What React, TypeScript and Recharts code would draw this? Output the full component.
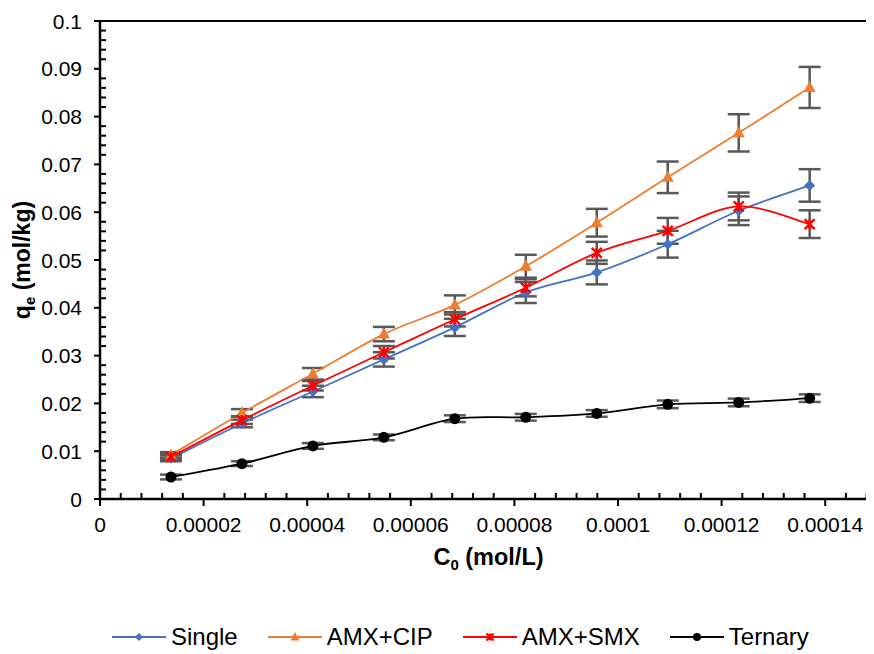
import React from "react";
import { LineChart, Line, XAxis, YAxis, ErrorBar, Legend, ReferenceLine } from "recharts";

const concentrations = [0.0000137, 0.0000274, 0.0000411, 0.0000548, 0.0000685, 0.0000822, 0.0000959, 0.0001096, 0.0001233, 0.000137];
const singleVals = [0.0085, 0.0158, 0.0225, 0.0292, 0.0359, 0.0432, 0.0474, 0.0533, 0.0603, 0.0656];
const singleErrs = [0.0006, 0.0008, 0.0012, 0.0015, 0.0018, 0.0022, 0.0025, 0.0028, 0.003, 0.0034];
const cipVals = [0.0092, 0.018, 0.0262, 0.0345, 0.0406, 0.0487, 0.0578, 0.0673, 0.0766, 0.0861];
const cipErrs = [0.0006, 0.0008, 0.0012, 0.0015, 0.002, 0.0024, 0.0029, 0.0033, 0.0039, 0.0043];
const smxVals = [0.0088, 0.0165, 0.0237, 0.0307, 0.0376, 0.0442, 0.0515, 0.0561, 0.0612, 0.0575];
const smxErrs = [0.0006, 0.0008, 0.001, 0.0013, 0.0015, 0.0018, 0.0023, 0.0027, 0.0029, 0.0029];
const ternaryVals = [0.0046, 0.0074, 0.0111, 0.0129, 0.0168, 0.0171, 0.0179, 0.0198, 0.0202, 0.0211];
const ternaryErrs = [0.0005, 0.0005, 0.0006, 0.0006, 0.0007, 0.0007, 0.0007, 0.0008, 0.0008, 0.0008];

const xMajorTicks = [0, 0.00002, 0.00004, 0.00006, 0.00008, 0.0001, 0.00012, 0.00014];
const xTickLabels = ["0", "0.00002", "0.00004", "0.00006", "0.00008", "0.0001", "0.00012", "0.00014"];
const yMajorTicks = [0, 0.01, 0.02, 0.03, 0.04, 0.05, 0.06, 0.07, 0.08, 0.09, 0.1];
const yTickLabels = ["0", "0.01", "0.02", "0.03", "0.04", "0.05", "0.06", "0.07", "0.08", "0.09", "0.1"];

const SUB = 5;
const xAllTicks: number[] = [];
xMajorTicks.forEach((t) => {
  const step = 0.00002 / SUB;
  for (let j = 0; j < SUB; j++) xAllTicks.push(+(t + j * step).toFixed(9));
});
const yAllTicks: number[] = [];
yMajorTicks.forEach((t, i) => {
  if (i === yMajorTicks.length - 1) {
    yAllTicks.push(t);
    return;
  }
  const step = 0.01 / SUB;
  for (let j = 0; j < SUB; j++) yAllTicks.push(+(t + j * step).toFixed(6));
});

const data = concentrations.map((x, i) => ({
  x,
  single: singleVals[i],
  singleErr: singleErrs[i],
  cip: cipVals[i],
  cipErr: cipErrs[i],
  smx: smxVals[i],
  smxErr: smxErrs[i],
  tern: ternaryVals[i],
  ternErr: ternaryErrs[i],
}));

const BLUE = "#4472C4";
const ORANGE = "#ED7D31";
const RED = "#FF0000";
const BLACK = "#000000";
const ERR = "#595959";
const FONT = "'Liberation Sans', Arial, sans-serif";

// Excel-like smooth curve (Catmull-Rom as cubic Bezier)
const excelSmooth: any = (context: any) => {
  let pts: number[][] = [];
  return {
    areaStart() {},
    areaEnd() {},
    lineStart() {
      pts = [];
    },
    lineEnd() {
      const n = pts.length;
      if (!n) return;
      context.moveTo(pts[0][0], pts[0][1]);
      const t = 1 / 6;
      for (let i = 0; i < n - 1; i++) {
        const p0 = pts[i - 1] || pts[i];
        const p1 = pts[i];
        const p2 = pts[i + 1];
        const p3 = pts[i + 2] || p2;
        context.bezierCurveTo(
          p1[0] + (p2[0] - p0[0]) * t,
          p1[1] + (p2[1] - p0[1]) * t,
          p2[0] - (p3[0] - p1[0]) * t,
          p2[1] - (p3[1] - p1[1]) * t,
          p2[0],
          p2[1]
        );
      }
    },
    point(x: number, y: number) {
      pts.push([+x, +y]);
    },
  };
};

const Diamond = ({ cx, cy, s = 5.5 }: any) => (
  <polygon points={`${cx},${cy - s} ${cx + s},${cy} ${cx},${cy + s} ${cx - s},${cy}`} fill={BLUE} />
);
const Triangle = ({ cx, cy, s = 6 }: any) => (
  <polygon points={`${cx},${cy - s * 1.1} ${cx + s},${cy + s * 0.75} ${cx - s},${cy + s * 0.75}`} fill={ORANGE} />
);
const Star = ({ cx, cy, s = 5 }: any) => (
  <g stroke={RED} strokeWidth={2.4}>
    <line x1={cx - s} y1={cy - s} x2={cx + s} y2={cy + s} />
    <line x1={cx - s} y1={cy + s} x2={cx + s} y2={cy - s} />
    <line x1={cx} y1={cy - s} x2={cx} y2={cy + s} />
  </g>
);
const Circle = ({ cx, cy, s = 5.5 }: any) => <circle cx={cx} cy={cy} r={s} fill={BLACK} />;

const mkDot = (Comp: any, name: string) => (props: any) => {
  const { cx, cy, index } = props;
  if (cx == null || cy == null) return <g key={`${name}-${index}`} />;
  return <Comp key={`${name}-${index}`} cx={cx} cy={cy} />;
};

const XTick = (props: any) => {
  const { x, y, index } = props;
  const major = index % SUB === 0;
  const mi = Math.floor(index / SUB);
  return (
    <g>
      {major ? (
        <line x1={x} y1={y} x2={x} y2={y + 7} stroke="#000" strokeWidth={2} />
      ) : (
        <line x1={x} y1={y} x2={x} y2={y - 6} stroke="#000" strokeWidth={2} />
      )}
      {major && (
        <text x={x} y={y + 33} textAnchor="middle" fontFamily={FONT} fontSize={21} fill="#000">
          {xTickLabels[mi]}
        </text>
      )}
    </g>
  );
};

const YTick = (props: any) => {
  const { x, y, index } = props;
  const major = index % SUB === 0;
  const mi = Math.floor(index / SUB);
  return (
    <g>
      {major ? (
        <line x1={x - 6} y1={y} x2={x} y2={y} stroke="#000" strokeWidth={2} />
      ) : (
        <line x1={x} y1={y} x2={x + 6} y2={y} stroke="#000" strokeWidth={2} />
      )}
      {major && (
        <text x={x - 18} y={y} dy="0.36em" textAnchor="end" fontFamily={FONT} fontSize={21} fill="#000">
          {yTickLabels[mi]}
        </text>
      )}
    </g>
  );
};

const XTitle = (props: any) => {
  const vb = props.viewBox || {};
  const cx = vb.x + vb.width / 2;
  return (
    <text x={cx} y={vb.y + 66} textAnchor="middle" fontFamily={FONT} fontSize={23.5} fontWeight="bold" fill="#000">
      C<tspan fontSize={15} dy={5}>0</tspan>
      <tspan dy={-5}> (mol/L)</tspan>
    </text>
  );
};

const YTitle = (props: any) => {
  const vb = props.viewBox || {};
  const cy = vb.y + vb.height / 2;
  const x = 22;
  return (
    <text
      x={x}
      y={cy}
      transform={`rotate(-90, ${x}, ${cy})`}
      textAnchor="middle"
      fontFamily={FONT}
      fontSize={23}
      fontWeight="bold"
      fill="#000"
    >
      q<tspan fontSize={15} dy={5}>e</tspan>
      <tspan dy={-5}> (mol/kg)</tspan>
    </text>
  );
};

const legendItems = [
  { name: "Single", color: BLUE, icon: Diamond, s: 4 },
  { name: "AMX+CIP", color: ORANGE, icon: Triangle, s: 4.5 },
  { name: "AMX+SMX", color: RED, icon: Star, s: 3.5 },
  { name: "Ternary", color: BLACK, icon: Circle, s: 4 },
];

const LegendContent = () => (
  <div style={{ display: "flex", alignItems: "center", paddingLeft: 104, paddingTop: 29, gap: 30 }}>
    {legendItems.map((it) => {
      const Icon = it.icon;
      return (
        <div key={it.name} style={{ display: "flex", alignItems: "center" }}>
          <svg width={54} height={16} style={{ display: "block" }}>
            <line x1={0} y1={8} x2={54} y2={8} stroke={it.color} strokeWidth={2} />
            <Icon cx={27} cy={8} s={it.s} />
          </svg>
          <span style={{ fontFamily: FONT, fontSize: 24, color: "#000", marginLeft: 5, lineHeight: "28px" }}>{it.name}</span>
        </div>
      );
    })}
  </div>
);

export default function App() {
  return (
    <div style={{ width: 866, height: 646, overflow: "hidden", background: "#fff" }}>
      <LineChart width={870} height={646} data={data} margin={{ top: 13, right: 1, left: 0, bottom: 0 }}>
        <XAxis
          dataKey="x"
          type="number"
          domain={[0, 0.00015]}
          ticks={xAllTicks}
          interval={0}
          tick={<XTick />}
          tickLine={false}
          tickSize={0}
          tickMargin={0}
          height={95}
          axisLine={{ stroke: "#000", strokeWidth: 2.5 }}
          label={<XTitle />}
          allowDataOverflow
        />
        <YAxis
          type="number"
          domain={[0, 0.1]}
          ticks={yAllTicks}
          interval={0}
          tick={<YTick />}
          tickLine={false}
          tickSize={0}
          tickMargin={0}
          width={92}
          axisLine={{ stroke: "#000", strokeWidth: 2.5 }}
          label={<YTitle />}
        />
        <ReferenceLine y={0.1} stroke="#000" strokeWidth={2} />
        <Legend verticalAlign="bottom" height={60} content={<LegendContent />} wrapperStyle={{ left: 0, width: 870 }} />
        <Line dataKey="single" stroke={BLUE} strokeWidth={1.8} type={excelSmooth} dot={mkDot(Diamond, "s")} isAnimationActive={false}>
          <ErrorBar dataKey="singleErr" direction="y" width={11} stroke={ERR} strokeWidth={2.5} isAnimationActive={false} />
        </Line>
        <Line dataKey="cip" stroke={ORANGE} strokeWidth={1.8} type={excelSmooth} dot={mkDot(Triangle, "c")} isAnimationActive={false}>
          <ErrorBar dataKey="cipErr" direction="y" width={11} stroke={ERR} strokeWidth={2.5} isAnimationActive={false} />
        </Line>
        <Line dataKey="smx" stroke={RED} strokeWidth={1.8} type={excelSmooth} dot={mkDot(Star, "m")} isAnimationActive={false}>
          <ErrorBar dataKey="smxErr" direction="y" width={11} stroke={ERR} strokeWidth={2.5} isAnimationActive={false} />
        </Line>
        <Line dataKey="tern" stroke={BLACK} strokeWidth={1.8} type={excelSmooth} dot={mkDot(Circle, "t")} isAnimationActive={false}>
          <ErrorBar dataKey="ternErr" direction="y" width={11} stroke={ERR} strokeWidth={2.5} isAnimationActive={false} />
        </Line>
      </LineChart>
    </div>
  );
}
